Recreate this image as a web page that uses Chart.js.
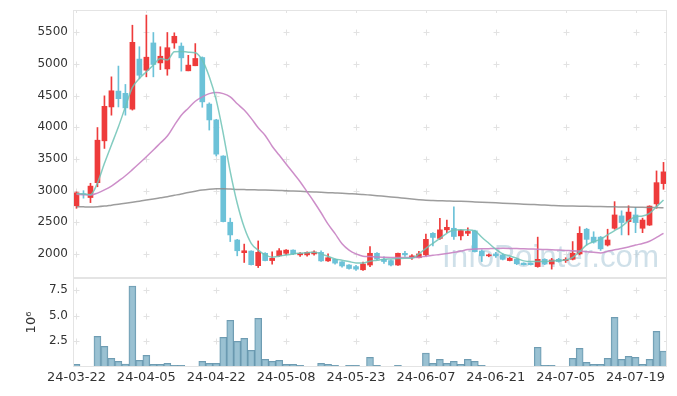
<!DOCTYPE html>
<html><head><meta charset="utf-8">
<script src="https://cdn.jsdelivr.net/npm/chart.js@4.4.1/dist/chart.umd.min.js"></script>
<style>
html,body{margin:0;padding:0;background:#fff;}
#wrap{position:relative;width:677px;height:396px;overflow:hidden;}
#c1{position:absolute;left:0;top:0;}
#c2{position:absolute;left:0;top:278px;}
</style></head>
<body>
<div id="wrap">
<canvas id="c1" width="677" height="278"></canvas>
<canvas id="c2" width="677" height="118"></canvas>
</div>
<script>
const dates = ["24-03-22","24-03-25","24-03-26","24-03-27","24-03-28","24-03-29","24-04-01","24-04-02","24-04-03","24-04-04","24-04-05","24-04-08","24-04-09","24-04-11","24-04-12","24-04-15","24-04-16","24-04-17","24-04-18","24-04-19","24-04-22","24-04-23","24-04-24","24-04-25","24-04-26","24-04-29","24-04-30","24-05-02","24-05-03","24-05-07","24-05-08","24-05-09","24-05-10","24-05-13","24-05-14","24-05-16","24-05-17","24-05-20","24-05-21","24-05-22","24-05-23","24-05-24","24-05-27","24-05-28","24-05-29","24-05-30","24-05-31","24-06-03","24-06-04","24-06-05","24-06-07","24-06-10","24-06-11","24-06-12","24-06-13","24-06-14","24-06-17","24-06-18","24-06-19","24-06-20","24-06-21","24-06-24","24-06-25","24-06-26","24-06-27","24-06-28","24-07-01","24-07-02","24-07-03","24-07-04","24-07-05","24-07-08","24-07-09","24-07-10","24-07-11","24-07-12","24-07-15","24-07-16","24-07-17","24-07-18","24-07-19","24-07-22","24-07-23","24-07-24","24-07-25"];
const openP  = [2760,2950,2890,3125,3785,4320,4570,4535,4285,5075,4900,5330,5015,4920,5330,5280,4890,4970,5100,4365,4115,3545,2500,2220,2020,2045,1815,2010,1895,1970,2010,2060,1985,1985,2000,2025,1890,1915,1875,1825,1800,1750,1825,2010,1915,1895,1825,2010,1940,1940,1985,2325,2245,2380,2405,2285,2325,2365,2045,1970,2000,1985,1895,1915,1855,1855,1800,1915,1840,1915,1895,1915,2000,2390,2265,2265,2140,2405,2600,2510,2615,2405,2455,2790,3110];
const highP  = [2980,2998,3115,3995,4495,4795,4965,4675,5610,5270,5770,5495,5270,5495,5490,5330,5135,5320,5110,4385,4125,3550,2565,2230,2155,2050,2205,2020,2035,2085,2070,2065,2020,2035,2050,2050,2000,1920,1880,1830,1820,1870,2115,2020,1955,1905,2015,2040,1990,2040,2315,2335,2560,2535,2745,2380,2410,2375,2065,2000,2025,2000,1945,1925,1860,1860,2265,1925,1930,1930,1940,2195,2430,2405,2350,2275,2390,2825,2680,2760,2735,2565,2760,3310,3445];
const lowP   = [2720,2880,2810,3060,3665,4190,4320,4190,4270,4770,4795,4795,4910,4820,5245,4885,4890,4970,4315,3955,3545,2505,2195,1970,1865,1825,1785,1890,1840,1960,1990,1990,1960,1965,1980,1880,1880,1840,1790,1760,1740,1740,1800,1905,1850,1810,1820,1960,1915,1935,1970,2125,2230,2335,2230,2220,2290,2030,1880,1955,1945,1905,1890,1830,1825,1825,1790,1830,1760,1870,1865,1905,1985,2140,2170,2055,2125,2390,2300,2300,2335,2335,2450,2720,3020];
const closeP = [2965,2935,3070,3795,4330,4575,4450,4305,5340,4820,5105,4990,5120,5255,5435,5095,4980,5085,4400,4115,3575,2510,2300,2050,2050,1830,2025,1895,1930,2050,2060,2000,2010,2025,2030,1890,1940,1855,1810,1770,1760,1840,2010,1920,1880,1825,2010,1985,1970,2000,2230,2260,2380,2420,2275,2370,2355,2035,1970,1985,1970,1915,1930,1845,1830,1830,1915,1840,1905,1880,1915,2010,2325,2230,2185,2080,2220,2615,2495,2660,2495,2535,2755,3125,3295];
const volumeM = [0.26,0.07,0.07,2.99,2.01,0.84,0.55,0.28,7.89,0.65,1.14,0.26,0.26,0.36,0.16,0.16,0.07,0.02,0.55,0.36,0.36,2.89,4.55,2.5,2.79,1.62,4.74,0.75,0.55,0.65,0.26,0.26,0.16,0.07,0.07,0.36,0.26,0.16,0.07,0.16,0.16,0.07,0.94,0.16,0.07,0.07,0.16,0.07,0.07,0.07,1.36,0.36,0.75,0.36,0.55,0.26,0.75,0.55,0.16,0.07,0.02,0.07,0.02,0.07,0.02,0.02,1.92,0.16,0.16,0.07,0.07,0.84,1.82,0.45,0.26,0.26,0.84,4.84,0.75,1.04,0.94,0.26,0.75,3.47,1.56];
const ma5   = [2955,2945,2935,3120,3430,3720,4007,4322,4628,4770,4875,4980,5085,5060,5190,5195,5185,5175,5059,4796,4428,3900,3300,2800,2420,2168,2060,1985,1947,1965,1984,2000,2011,2020,2027,2000,1960,1921,1900,1879,1858,1858,1884,1900,1916,1920,1926,1930,1932,2000,2089,2168,2247,2326,2378,2380,2378,2363,2263,2168,2074,2000,1968,1932,1890,1879,1879,1879,1890,1895,1905,1947,2037,2142,2194,2232,2300,2368,2431,2525,2588,2599,2641,2746,2851];
const ma20  = [2941,2935,2930,2960,3010,3070,3150,3234,3330,3430,3534,3640,3750,3860,4030,4190,4300,4410,4480,4530,4549,4530,4480,4370,4270,4140,3990,3870,3700,3560,3420,3280,3140,2980,2820,2650,2470,2320,2160,2060,2000,1965,1958,1950,1946,1943,1942,1943,1945,1947,1965,1980,1990,2005,2025,2045,2070,2076,2080,2083,2086,2088,2087,2084,2080,2077,2074,2070,2066,2060,2055,2052,2045,2035,2025,2015,2040,2065,2085,2110,2140,2165,2200,2260,2326];
const ma120 = [2746,2743,2741,2745,2755,2770,2785,2799,2815,2833,2851,2868,2886,2904,2925,2946,2970,2990,3008,3020,3028,3030,3025,3018,3015,3012,3010,3007,3004,3001,2998,2993,2988,2983,2978,2973,2967,2962,2957,2951,2946,2938,2929,2920,2910,2900,2889,2877,2866,2855,2846,2842,2839,2836,2832,2830,2826,2821,2816,2811,2806,2801,2796,2791,2786,2781,2776,2771,2766,2761,2757,2755,2753,2751,2749,2747,2745,2743,2741,2739,2737,2735,2733,2731,2730];
const priceTicks = [2000,2500,3000,3500,4000,4500,5000,5500];
const volTicks = [2.5,5.0,7.5];

const UP = '#ee3b3b', DOWN = '#6cc2d8';
const candleColors = openP.map((o,i)=> closeP[i] >= o ? UP : DOWN);
const FONT = 'DejaVu Sans';
const TXT = '#333333';

function fixW(s){ s.width = 73; s.paddingTop = 0; s.paddingBottom = 0; }

const gridPlugin = {
  id:'gridx',
  beforeDatasetsDraw(chart, args, opts){
    const ctx = chart.ctx, a = chart.chartArea;
    const xs = chart.scales.x, ys = chart.scales.y;
    const tickVals = opts.yticks;
    ctx.save();
    ctx.strokeStyle = '#e2e2e2';
    ctx.lineWidth = 1;
    const xPix = [];
    for (let i=0;i<dates.length;i++) if (i%10===0) xPix.push(Math.round(xs.getPixelForValue(i))+0.5);
    tickVals.forEach(v=>{
      const y = Math.round(ys.getPixelForValue(v))+0.5;
      xPix.forEach(x=>{
        ctx.beginPath();
        ctx.moveTo(x-3,y); ctx.lineTo(x+3,y);
        ctx.moveTo(x,y-3); ctx.lineTo(x,y+3);
        ctx.stroke();
      });
      ctx.beginPath(); ctx.moveTo(a.right-3,y); ctx.lineTo(a.right,y); ctx.stroke();
    });
    if (opts.top){
      xPix.forEach(x=>{ctx.beginPath(); ctx.moveTo(x,a.top); ctx.lineTo(x,a.top+3); ctx.stroke();});
    }
    if (opts.watermark){
      ctx.font = '30px "Liberation Sans"';
      const w = ctx.measureText('InfoPointer.com').width;
      const size = 30*217/w;
      ctx.font = size.toFixed(2)+'px "Liberation Sans"';
      ctx.fillStyle = 'rgba(175,203,218,0.6)';
      ctx.textBaseline = 'alphabetic';
      ctx.fillText('InfoPointer.com', 442, 267);
    }
    ctx.restore();
  },
  afterDatasetsDraw(chart){
    const ctx = chart.ctx, a = chart.chartArea;
    ctx.save();
    ctx.strokeStyle = '#e4e4e4';
    ctx.lineWidth = 1;
    ctx.strokeRect(Math.round(a.left)+0.5, Math.round(a.top)+0.5, Math.round(a.right-a.left)-1, Math.round(a.bottom-a.top)-1);
    ctx.restore();
  }
};

const lineDs = (data,color)=>({type:'line',data,borderColor:color,borderWidth:1.5,pointRadius:0,tension:0.3,cubicInterpolationMode:'monotone',fill:false,order:0});

new Chart(document.getElementById('c1'), {
  type:'bar',
  data:{
    labels: dates,
    datasets:[
      lineDs(ma5,'rgba(110,195,182,0.85)'),
      lineDs(ma20,'rgba(200,130,195,0.9)'),
      lineDs(ma120,'rgba(140,140,140,0.85)'),
      {type:'bar',data:openP.map((o,i)=>[o,closeP[i]]),backgroundColor:candleColors,barThickness:5,grouped:false,minBarLength:1,borderWidth:0,order:1},
      {type:'bar',data:lowP.map((l,i)=>[l,highP[i]]),backgroundColor:candleColors,barThickness:1,grouped:false,borderWidth:0,order:2}
    ]
  },
  options:{
    responsive:false, animation:false, devicePixelRatio:1,
    layout:{padding:{top:10,right:10,left:0,bottom:0}},
    plugins:{legend:{display:false},tooltip:{enabled:false},gridx:{yticks:priceTicks,top:true,watermark:true}},
    scales:{
      x:{display:false,offset:true,grid:{display:false}},
      y:{min:1620,max:5850,afterFit:fixW,border:{display:false},
         grid:{color:'transparent',drawTicks:false},
         afterBuildTicks:(s)=>{s.ticks = priceTicks.map(v=>({value:v}));},
         ticks:{padding:5,color:TXT,font:{family:FONT,size:12},callback:v=>String(v)}}
    }
  },
  plugins:[gridPlugin]
});

new Chart(document.getElementById('c2'), {
  type:'bar',
  data:{
    labels: dates,
    datasets:[{data:volumeM,backgroundColor:'rgba(140,184,204,0.88)',borderColor:'rgba(95,145,170,0.9)',borderWidth:1,barPercentage:1,categoryPercentage:1}]
  },
  options:{
    responsive:false, animation:false, devicePixelRatio:1,
    layout:{padding:{top:0,right:10,left:0,bottom:0}},
    plugins:{legend:{display:false},tooltip:{enabled:false},gridx:{yticks:volTicks,top:false,watermark:false}},
    scales:{
      x:{offset:true,afterFit:(s)=>{s.height=29; s.paddingLeft=0; s.paddingRight=0;},border:{display:false},grid:{color:'transparent',drawTicks:false},
         ticks:{autoSkip:false,maxRotation:0,minRotation:0,padding:3,color:TXT,font:{family:FONT,size:13},
                callback:(v,i)=> i%10===0 ? dates[i] : ''}},
      y:{min:0,max:8.67,afterFit:fixW,border:{display:false},
         grid:{color:'transparent',drawTicks:false},
         afterBuildTicks:(s)=>{s.ticks = volTicks.map(v=>({value:v}));},
         title:{display:true,text:'10⁶',color:TXT,font:{family:FONT,size:13},padding:{top:24,bottom:0}},
         ticks:{padding:5,color:TXT,font:{family:FONT,size:12},callback:v=>v.toFixed(1)}}
    }
  },
  plugins:[gridPlugin]
});
</script>
</body></html>
